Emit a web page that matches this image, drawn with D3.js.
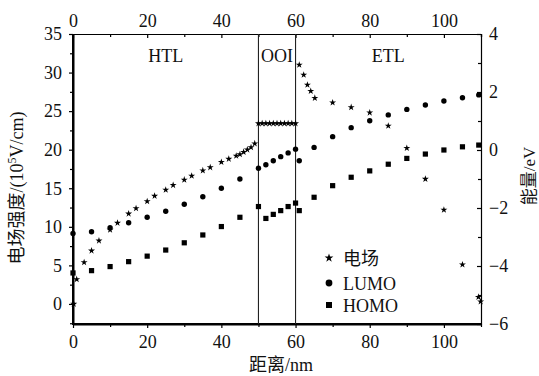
<!DOCTYPE html>
<html><head><meta charset="utf-8">
<script src="https://cdn.jsdelivr.net/npm/d3@7"></script>
<style>
html,body{margin:0;padding:0;background:#fff;}
text{font-family:"Liberation Serif","Noto Sans CJK SC",serif;fill:#111;}
</style></head>
<body><svg id="c" width="539" height="376"></svg>
<script>
// ---- data ----
const fieldX = [0.2,1,3,5,7,10,12,15,17,20,22,25,27,30,32,35,37,40,42,44,45,46,47,48,49,
  50,51,52,53,54,55,56,57,58,59,60,
  61,62.2,63.2,64.1,65.2,70,75,80,85,90,95,100,105,109.3,109.9];
const fieldV = [0,3.2,5.4,6.9,8.2,9.6,10.5,11.7,12.4,13.3,14.0,14.8,15.4,16.1,16.6,17.3,17.7,18.4,18.8,19.2,19.4,19.7,20.0,20.3,20.8,
  23.4,23.4,23.4,23.4,23.4,23.4,23.4,23.4,23.4,23.4,23.4,
  31.0,29.7,28.4,27.6,26.7,26.1,25.5,24.8,23.1,20.2,16.2,12.2,5.1,0.9,0.3];
const levelX = [0,5,10,15,20,25,30,35,40,45,50,52,54,56,58,60,61,65,70,75,80,85,90,95,100,105,109.4];
const lumoE = [-2.88,-2.82,-2.68,-2.51,-2.32,-2.11,-1.87,-1.61,-1.32,-1.0,-0.63,-0.51,-0.37,-0.23,-0.10,0.03,-0.37,0.09,0.46,0.77,1.01,1.21,1.40,1.55,1.69,1.80,1.90];
const homoE = [-4.24,-4.16,-4.02,-3.85,-3.66,-3.45,-3.20,-2.93,-2.64,-2.32,-1.95,-2.36,-2.22,-2.09,-1.95,-1.83,-2.09,-1.63,-1.23,-0.94,-0.72,-0.49,-0.29,-0.14,0,0.11,0.17];
const boundaries = [50,60];
const regions = [{t:"HTL",x:25},{t:"OOI",x:55},{t:"ETL",x:85}];
const xTicks = [0,20,40,60,80,100];
const leftTicks = [0,5,10,15,20,25,30,35];
const rightTicks = [-6,-4,-2,0,2,4];
const legendItems = ["电场","LUMO","HOMO"];

// ---- layout ----
const svg = d3.select("#c");
const L=73,R=481,T=34,B=324;
const x = d3.scaleLinear().domain([0,110]).range([L,R]);
const yL = d3.scaleLinear().domain([-2.6,35]).range([B,T]);
const yR = d3.scaleLinear().domain([-6,4]).range([B,T]);
const FS = 18;

function styleAxis(g, w){
  g.selectAll("path.domain").attr("stroke","#000").attr("stroke-width",w);
  g.selectAll(".tick line").attr("stroke","#000").attr("stroke-width",1.2);
  g.selectAll("text").attr("font-size",FS).attr("font-family",'"Liberation Serif",serif').attr("fill","#111");
}
const fmt = d => d<0 ? "\u2212"+Math.abs(d) : String(d);

// minor ticks
const xMinor = d3.range(0,111,10).filter(d=>!xTicks.includes(d));
svg.append("g").attr("transform",`translate(0,${B})`)
  .call(d3.axisBottom(x).tickValues(xMinor).tickSize(3).tickFormat("")).call(g=>{g.select(".domain").remove();g.selectAll("line").attr("stroke","#000").attr("stroke-width",1.2);});
svg.append("g").attr("transform",`translate(0,${T})`)
  .call(d3.axisTop(x).tickValues(xMinor.concat([110])).tickSizeInner(-3).tickSizeOuter(0).tickFormat("")).call(g=>{g.select(".domain").remove();g.selectAll("line").attr("stroke","#000").attr("stroke-width",1.2);});
const lMinor = [-2.5,2.5,7.5,12.5,17.5,22.5,27.5,32.5];
svg.append("g").attr("transform",`translate(${L},0)`)
  .call(d3.axisLeft(yL).tickValues(lMinor).tickSize(3).tickFormat("")).call(g=>{g.select(".domain").remove();g.selectAll("line").attr("stroke","#000").attr("stroke-width",1.2);});
svg.append("g").attr("transform",`translate(${R},0)`)
  .call(d3.axisRight(yR).tickValues([-5,-3,-1,1,3]).tickSizeInner(-3).tickSizeOuter(0).tickFormat("")).call(g=>{g.select(".domain").remove();g.selectAll("line").attr("stroke","#000").attr("stroke-width",1.2);});

// major axes
svg.append("g").attr("transform",`translate(0,${T})`)
  .call(d3.axisTop(x).tickValues(xTicks).tickSizeInner(-4).tickSizeOuter(0).tickPadding(7).tickFormat(fmt))
  .call(g=>styleAxis(g,1.2));
svg.append("g").attr("transform",`translate(${R},0)`)
  .call(d3.axisRight(yR).tickValues(rightTicks).tickSizeInner(-4).tickSizeOuter(0).tickPadding(8).tickFormat(fmt))
  .call(g=>styleAxis(g,1.2));
svg.append("g").attr("transform",`translate(0,${B})`)
  .call(d3.axisBottom(x).tickValues(xTicks).tickSize(4).tickSizeOuter(0).tickPadding(7).tickFormat(fmt))
  .call(g=>styleAxis(g,2));
svg.append("g").attr("transform",`translate(${L},0)`)
  .call(d3.axisLeft(yL).tickValues(leftTicks).tickSize(4).tickSizeOuter(0).tickPadding(7).tickFormat(fmt))
  .call(g=>styleAxis(g,2));
svg.append("line").attr("x1",L).attr("x2",L).attr("y1",T).attr("y2",B+1).attr("stroke","#000").attr("stroke-width",2);
svg.append("line").attr("x1",L-1).attr("x2",R).attr("y1",B).attr("y2",B).attr("stroke","#000").attr("stroke-width",2);

// boundaries
svg.selectAll("line.bd").data(boundaries).join("line").attr("class","bd")
  .attr("x1",d=>x(d)).attr("x2",d=>x(d)).attr("y1",T).attr("y2",B)
  .attr("stroke","#222").attr("stroke-width",1.1);

// region labels
svg.selectAll("text.rg").data(regions).join("text").attr("class","rg")
  .attr("x",d=>x(d.x)).attr("y",62).attr("text-anchor","middle").attr("font-size",FS).text(d=>d.t);

// markers
const star = d3.symbol().type(d3.symbolStar).size(15);
svg.append("g").selectAll("path").data(fieldX.map((d,i)=>[d,fieldV[i]])).join("path")
  .attr("d",star).attr("transform",d=>`translate(${x(d[0])},${yL(d[1])})`).attr("fill","#000");
svg.append("g").selectAll("circle").data(levelX.map((d,i)=>[d,lumoE[i]])).join("circle")
  .attr("cx",d=>x(d[0])).attr("cy",d=>yR(d[1])).attr("r",2.7).attr("fill","#000");
svg.append("g").selectAll("rect").data(levelX.map((d,i)=>[d,homoE[i]])).join("rect")
  .attr("x",d=>x(d[0])-2.6).attr("y",d=>yR(d[1])-2.6).attr("width",5.2).attr("height",5.2).attr("fill","#000");

// legend
const lg = svg.append("g").attr("transform","translate(329,258)");
const ly = [0,25,47];
lg.append("path").attr("d",d3.symbol().type(d3.symbolStar).size(24)).attr("transform",`translate(0,${ly[0]})`).attr("fill","#000");
lg.append("circle").attr("cx",0).attr("cy",ly[1]).attr("r",3.4).attr("fill","#000");
lg.append("rect").attr("x",-3).attr("y",ly[2]-3).attr("width",6).attr("height",6).attr("fill","#000");
lg.selectAll("text").data(legendItems).join("text").attr("x",14).attr("y",(d,i)=>ly[i]+7).attr("font-size",FS).text(d=>d);

// axis titles
svg.append("text").attr("transform",`translate(281,371)`).attr("text-anchor","middle").attr("font-size",FS).text("距离/nm");
const lt = svg.append("text").attr("transform","translate(23,188) rotate(-90)").attr("text-anchor","middle").attr("font-size",18);
lt.append("tspan").text("电场强度/(10");
lt.append("tspan").attr("dy",-7).attr("font-size",12).text("5");
lt.append("tspan").attr("dy",7).text("V/cm)");
svg.append("text").attr("transform","translate(535,176) rotate(-90)").attr("text-anchor","middle").attr("font-size",17).text("能量/eV");
</script></body></html>
